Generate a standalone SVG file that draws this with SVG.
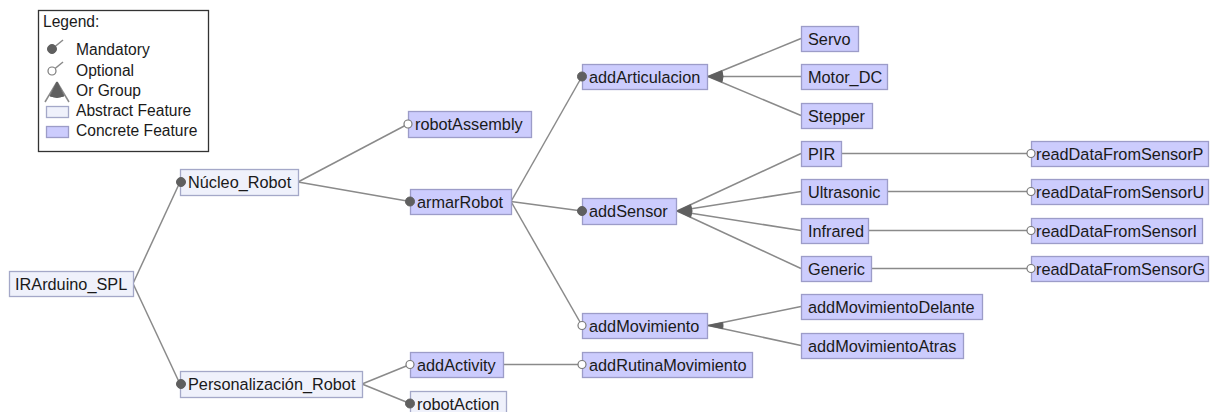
<svg xmlns="http://www.w3.org/2000/svg" width="1212" height="412" viewBox="0 0 1212 412">
<style>
text{font-family:"Liberation Sans",Arial,sans-serif;font-size:16.3px;fill:#1a1a1a}
.lg{font-size:15.6px}
.c{fill:#ccccfd;stroke:#9c9cc8;stroke-width:1.3}
.a{fill:#eff1fb;stroke:#a4a8c8;stroke-width:1.3}
.e{stroke:#8a8a8a;stroke-width:1.5;fill:none}
.m{fill:#5f5f5f;stroke:#5f5f5f;stroke-width:1}
.o{fill:#ffffff;stroke:#7a7a7a;stroke-width:1.2}
.w{fill:#5f5f5f;stroke:#5f5f5f;stroke-width:1}
</style>
<rect width="1212" height="412" fill="#ffffff"/>

<g id="legend">
<rect x="38.5" y="10.5" width="170" height="141" fill="#ffffff" stroke="#333333" stroke-width="1.3"/>
<text class="lg" x="43" y="27">Legend:</text>
<line x1="52" y1="49" x2="63" y2="40" class="e"/>
<circle cx="52" cy="49" r="4.5" class="m"/>
<text class="lg" x="76" y="55">Mandatory</text>
<line x1="52" y1="71" x2="63" y2="62" class="e"/>
<circle cx="52" cy="71" r="4" class="o"/>
<text class="lg" x="76" y="76">Optional</text>
<line x1="57" y1="82" x2="45" y2="102" class="e"/>
<line x1="57" y1="82" x2="69" y2="102" class="e"/>
<path d="M57,82 L50,96 Q57,99 64,96 Z" class="w"/>
<text class="lg" x="76" y="96">Or Group</text>
<rect x="46.5" y="106.5" width="22" height="11" class="a"/>
<text class="lg" x="76" y="116">Abstract Feature</text>
<rect x="46.5" y="126.5" width="22" height="11" class="c"/>
<text class="lg" x="76" y="136">Concrete Feature</text>
</g>

<g id="connectors">
<line x1="133" y1="283.5" x2="180" y2="182" class="e"/>
<line x1="133" y1="283.5" x2="180" y2="384" class="e"/>
<line x1="298" y1="182" x2="408" y2="124" class="e"/>
<line x1="298" y1="182" x2="410" y2="201.5" class="e"/>
<line x1="511" y1="201.5" x2="582" y2="76.5" class="e"/>
<line x1="511" y1="201.5" x2="582" y2="211" class="e"/>
<line x1="511" y1="201.5" x2="582" y2="325.5" class="e"/>
<line x1="708" y1="76.5" x2="801" y2="38.5" class="e"/>
<line x1="708" y1="76.5" x2="801" y2="76.5" class="e"/>
<line x1="708" y1="76.5" x2="801" y2="115.5" class="e"/>
<path d="M708,76.5 L721.9,70.8 A15,15 0 0 1 721.9,82.2 Z" class="w"/>
<line x1="677" y1="211" x2="801" y2="153.5" class="e"/>
<line x1="677" y1="211" x2="801" y2="191.5" class="e"/>
<line x1="677" y1="211" x2="801" y2="230.5" class="e"/>
<line x1="677" y1="211" x2="801" y2="268.5" class="e"/>
<path d="M677,211 L690.6,204.7 A15,15 0 0 1 690.6,217.3 Z" class="w"/>
<line x1="841" y1="153.5" x2="1027" y2="153.5" class="e"/>
<line x1="887" y1="191.5" x2="1027" y2="191.5" class="e"/>
<line x1="868" y1="230.5" x2="1027" y2="230.5" class="e"/>
<line x1="871" y1="268.5" x2="1027" y2="268.5" class="e"/>
<line x1="708" y1="325.5" x2="801" y2="306.5" class="e"/>
<line x1="708" y1="325.5" x2="801" y2="345.5" class="e"/>
<path d="M708,325.5 L722.7,322.5 A15,15 0 0 1 722.7,328.6 Z" class="w"/>
<line x1="362" y1="384" x2="410" y2="364.5" class="e"/>
<line x1="362" y1="384" x2="410" y2="403.5" class="e"/>
<line x1="503" y1="364.5" x2="582" y2="364.5" class="e"/>
</g>

<g id="IRArduino_SPL"><rect x="9.5" y="271.5" width="124" height="25" class="a"/><text x="15" y="290">IRArduino_SPL</text></g>
<g id="Nucleo_Robot"><rect x="180.5" y="169.5" width="118" height="26" class="a"/><circle cx="181" cy="182" r="4.5" class="m"/><text x="188" y="188">Núcleo_Robot</text></g>
<g id="Personalizacion_Robot"><rect x="180.5" y="371.5" width="182" height="26" class="a"/><circle cx="181" cy="384" r="4.5" class="m"/><text x="188" y="390">Personalización_Robot</text></g>
<g id="robotAssembly"><rect x="408.5" y="111.5" width="123" height="26" class="c"/><circle cx="408" cy="124" r="4" class="o"/><text x="415" y="130">robotAssembly</text></g>
<g id="armarRobot"><rect x="410.5" y="189.5" width="101" height="25" class="c"/><circle cx="410" cy="201.5" r="4.5" class="m"/><text x="417" y="208">armarRobot</text></g>
<g id="addArticulacion"><rect x="582.5" y="64.5" width="125" height="25" class="c"/><circle cx="582" cy="76.5" r="4.5" class="m"/><text x="589" y="83">addArticulacion</text></g>
<g id="addSensor"><rect x="582.5" y="198.5" width="94" height="26" class="c"/><circle cx="582" cy="211" r="4.5" class="m"/><text x="589" y="217">addSensor</text></g>
<g id="addMovimiento"><rect x="582.5" y="313.5" width="125" height="25" class="c"/><circle cx="582" cy="325.5" r="4" class="o"/><text x="589" y="332">addMovimiento</text></g>
<g id="Servo"><rect x="801.5" y="26.5" width="57" height="25" class="c"/><text x="808" y="45">Servo</text></g>
<g id="Motor_DC"><rect x="801.5" y="64.5" width="86" height="25" class="c"/><text x="808" y="83">Motor_DC</text></g>
<g id="Stepper"><rect x="801.5" y="103.5" width="71" height="25" class="c"/><text x="808" y="122">Stepper</text></g>
<g id="PIR"><rect x="801.5" y="141.5" width="40" height="25" class="c"/><text x="808" y="160">PIR</text></g>
<g id="Ultrasonic"><rect x="801.5" y="179.5" width="86" height="25" class="c"/><text x="808" y="198">Ultrasonic</text></g>
<g id="Infrared"><rect x="801.5" y="218.5" width="67" height="25" class="c"/><text x="808" y="237">Infrared</text></g>
<g id="Generic"><rect x="801.5" y="256.5" width="70" height="25" class="c"/><text x="808" y="275">Generic</text></g>
<g id="readDataFromSensorP"><rect x="1031.5" y="141.5" width="177" height="25" class="c"/><circle cx="1031" cy="153.5" r="4" class="o"/><text x="1036" y="160">readDataFromSensorP</text></g>
<g id="readDataFromSensorU"><rect x="1031.5" y="179.5" width="177" height="25" class="c"/><circle cx="1031" cy="191.5" r="4" class="o"/><text x="1036" y="198">readDataFromSensorU</text></g>
<g id="readDataFromSensorI"><rect x="1031.5" y="218.5" width="171" height="25" class="c"/><circle cx="1031" cy="230.5" r="4" class="o"/><text x="1036" y="237">readDataFromSensorI</text></g>
<g id="readDataFromSensorG"><rect x="1031.5" y="256.5" width="177" height="25" class="c"/><circle cx="1031" cy="268.5" r="4" class="o"/><text x="1036" y="275">readDataFromSensorG</text></g>
<g id="addMovimientoDelante"><rect x="801.5" y="294.5" width="181" height="25" class="c"/><text x="808" y="313">addMovimientoDelante</text></g>
<g id="addMovimientoAtras"><rect x="801.5" y="333.5" width="162" height="25" class="c"/><text x="808" y="352">addMovimientoAtras</text></g>
<g id="addActivity"><rect x="410.5" y="352.5" width="93" height="25" class="c"/><circle cx="410" cy="364.5" r="4" class="o"/><text x="417" y="371">addActivity</text></g>
<g id="addRutinaMovimiento"><rect x="582.5" y="352.5" width="170" height="25" class="c"/><circle cx="582" cy="364.5" r="4" class="o"/><text x="589" y="371">addRutinaMovimiento</text></g>
<g id="robotAction"><rect x="410.5" y="391.5" width="96" height="25" class="a"/><circle cx="410" cy="403.5" r="4.5" class="m"/><text x="417" y="410">robotAction</text></g>
</svg>
